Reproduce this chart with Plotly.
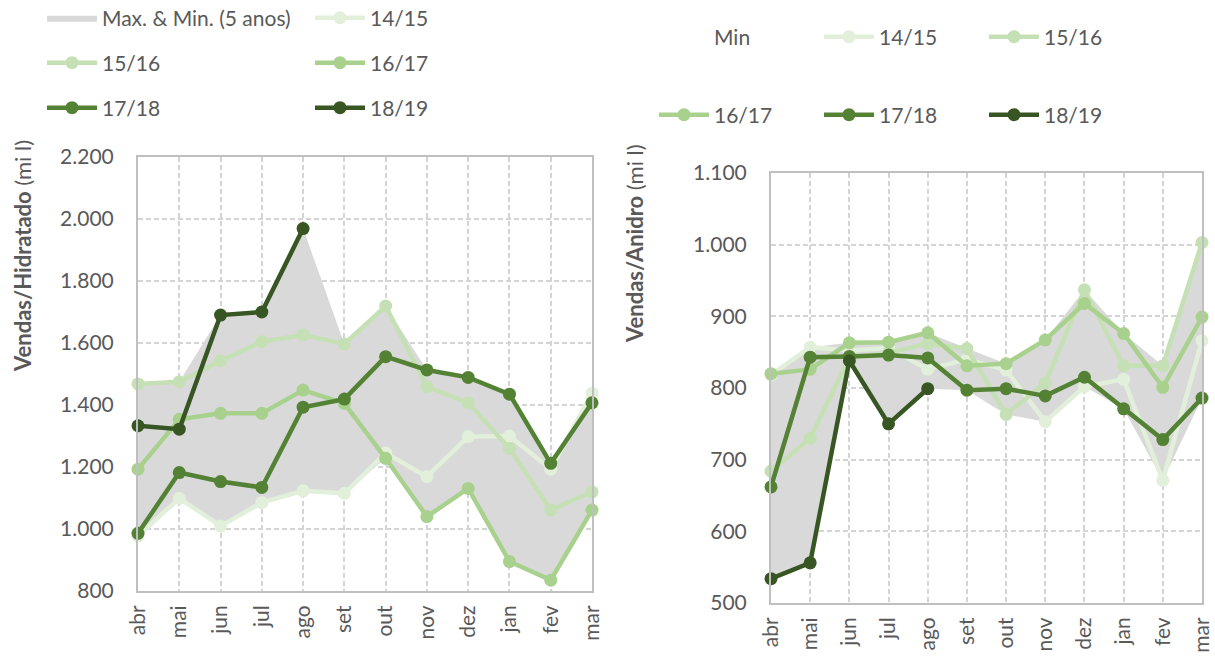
import plotly.graph_objects as go

months = ["abr", "mai", "jun", "jul", "ago", "set", "out", "nov", "dez", "jan", "fev", "mar"]
seasons = ["14/15", "15/16", "16/17", "17/18", "18/19"]

# Hidratado (left)
h_1415 = [978, 1099, 1010, 1085, 1123, 1115, 1245, 1169, 1298, 1300, 1193, 1438]
h_1516 = [1468, 1475, 1543, 1604, 1626, 1597, 1719, 1459, 1407, 1260, 1061, 1120]
h_1617 = [1193, 1354, 1373, 1373, 1448, 1405, 1228, 1040, 1131, 895, 835, 1061]
h_1718 = [986, 1182, 1153, 1134, 1393, 1419, 1556, 1513, 1489, 1435, 1212, 1407]
h_1819 = [1333, 1322, 1690, 1700, 1969, None, None, None, None, None, None, None]
h_max = [1468, 1475, 1690, 1700, 1969, 1597, 1719, 1513, 1489, 1435, 1212, 1438]
h_min = [978, 1099, 1010, 1085, 1123, 1115, 1228, 1040, 1131, 895, 835, 1061]

# Anidro (right)
a_1415 = [818, 857, 852, 856, 826, 840, 825, 753, 802, 812, 671, 866]
a_1516 = [684, 730, 842, 849, 862, 855, 763, 807, 937, 831, 831, 1003]
a_1617 = [820, 826, 863, 864, 877, 831, 834, 867, 918, 876, 801, 899]
a_1718 = [662, 843, 844, 846, 842, 797, 799, 789, 815, 771, 728, 786]
a_1819 = [534, 556, 838, 750, 799, None, None, None, None, None, None, None]
a_max = [820, 857, 863, 864, 877, 855, 834, 867, 937, 876, 831, 1003]
a_min = [534, 556, 838, 750, 799, 797, 763, 753, 802, 771, 671, 786]

colors = ["#e2efda", "#c5e0b4", "#a9d18e", "#548235", "#375623"]
band_color = "#d9d9d9"
text_color = "#595959"
FONT = "Lato"
FS = 21

xi = list(range(len(months)))

fig = go.Figure()

# ---- left band
fig.add_trace(go.Scatter(x=xi, y=h_min, mode="lines", line=dict(width=0, color="rgba(0,0,0,0)"),
                         showlegend=False, hoverinfo="skip", xaxis="x", yaxis="y"))
fig.add_trace(go.Scatter(x=xi, y=h_max, mode="lines", line=dict(width=0, color=band_color),
                         fill="tonexty", fillcolor=band_color, name="Max. & Min. (5 anos)",
                         legend="legend", legendrank=1, xaxis="x", yaxis="y"))

left_series = [h_1415, h_1516, h_1617, h_1718, h_1819]
left_leg = ["legend6", "legend2", "legend2", "legend3", "legend3"]
for i, (s, vals, c, lg) in enumerate(zip(seasons, left_series, colors, left_leg)):
    fig.add_trace(go.Scatter(x=xi, y=vals, mode="lines+markers", name=s,
                             line=dict(color=c, width=4.5), marker=dict(color=c, size=13),
                             cliponaxis=False, legend=lg, legendrank=10 + i, xaxis="x", yaxis="y"))

# ---- right band
fig.add_trace(go.Scatter(x=xi, y=a_min, mode="lines", line=dict(width=0, color="rgba(0,0,0,0)"),
                         name="Min", legend="legend4", legendrank=1, hoverinfo="skip",
                         xaxis="x2", yaxis="y2"))
fig.add_trace(go.Scatter(x=xi, y=a_max, mode="lines", line=dict(width=0, color=band_color),
                         fill="tonexty", fillcolor=band_color, showlegend=False,
                         xaxis="x2", yaxis="y2"))

right_series = [a_1415, a_1516, a_1617, a_1718, a_1819]
right_leg = ["legend4", "legend4", "legend5", "legend5", "legend5"]
for i, (s, vals, c, lg) in enumerate(zip(seasons, right_series, colors, right_leg)):
    fig.add_trace(go.Scatter(x=xi, y=vals, mode="lines+markers", name=s,
                             line=dict(color=c, width=4.5), marker=dict(color=c, size=13),
                             cliponaxis=False, legend=lg, legendrank=10 + i, xaxis="x2", yaxis="y2"))

W, H = 1215, 659

def px_x(p):
    return p / W

def px_y(p):
    return 1 - p / H

grid = dict(showgrid=True, gridcolor="#d4d4d4", griddash="5px,3px", gridwidth=1.5,
            showline=True, linecolor="#bfbfbf", linewidth=2, mirror=True, zeroline=False)
common_x = dict(tickmode="array", tickvals=xi, ticktext=months, tickangle=-90, range=[0, 11],
                tickfont=dict(family=FONT, size=FS, color=text_color), ticks="", ticklabelstandoff=4,
                **grid)
common_y = dict(tickformat=",.0f", tickfont=dict(family=FONT, size=FS, color=text_color),
                ticks="", ticklabelstandoff=18, **grid)

leg_common = dict(orientation="h", bgcolor="rgba(0,0,0,0)", font=dict(family=FONT, size=FS, color=text_color),
                  xanchor="left", yanchor="middle", entrywidthmode="pixels", itemwidth=50,
                  tracegroupgap=0, traceorder="normal")

fig.update_layout(
    width=W, height=H, margin=dict(l=0, r=0, t=0, b=0, autoexpand=False),
    plot_bgcolor="white", paper_bgcolor="white", separators=",.",
    font=dict(family=FONT, size=FS, color=text_color),
    xaxis=dict(domain=[px_x(138), px_x(592)], anchor="y", **common_x),
    yaxis=dict(domain=[px_y(591), px_y(157)], anchor="x", range=[800, 2200], dtick=200, **common_y),
    xaxis2=dict(domain=[px_x(771), px_x(1202)], anchor="y2", **common_x),
    yaxis2=dict(domain=[px_y(603), px_y(173)], anchor="x2", range=[500, 1100], dtick=100, **common_y),
    legend=dict(x=px_x(42), y=px_y(18), entrywidth=203, **leg_common),
    legend6=dict(x=px_x(310), y=px_y(18), entrywidth=100, **leg_common),
    legend2=dict(x=px_x(42), y=px_y(63), entrywidth=203, **leg_common),
    legend3=dict(x=px_x(42), y=px_y(108), entrywidth=203, **leg_common),
    legend4=dict(x=px_x(654), y=px_y(37), entrywidth=100, **leg_common),
    legend5=dict(x=px_x(654), y=px_y(115), entrywidth=100, **leg_common),
    showlegend=True,
    annotations=[
        dict(text="<b>Vendas/Hidratado</b> (mi l)", x=px_x(22), y=px_y(256), xref="paper", yref="paper",
             xanchor="center", yanchor="middle",
             textangle=-90, showarrow=False, font=dict(family=FONT, size=22, color=text_color)),
        dict(text="<b>Vendas/Anidro</b> (mi l)", x=px_x(634), y=px_y(244), xref="paper", yref="paper",
             xanchor="center", yanchor="middle",
             textangle=-90, showarrow=False, font=dict(family=FONT, size=22, color=text_color)),
    ],
)

fig.write_html("out.html", config={"displayModeBar": False},
               post_script="document.body.style.margin='0';document.body.style.overflow='hidden';")
